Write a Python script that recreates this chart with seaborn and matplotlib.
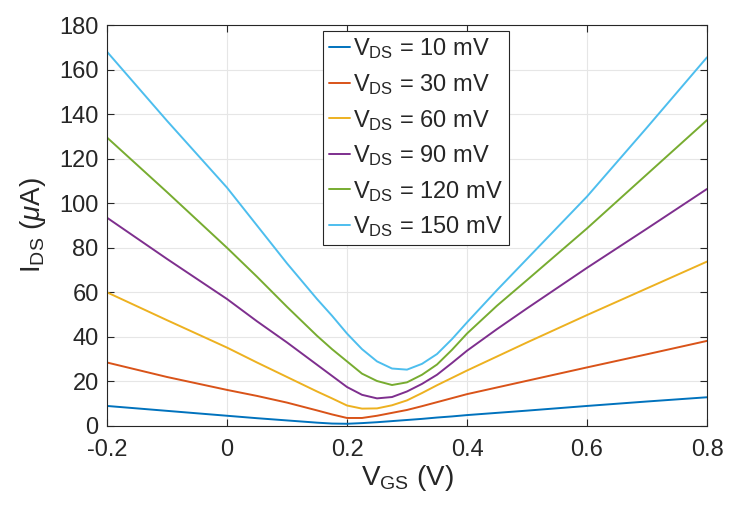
import numpy as np
import pandas as pd
import matplotlib
matplotlib.use("Agg")
import matplotlib.pyplot as plt
from matplotlib.lines import Line2D
import seaborn as sns

# ---- data ----
vgs = [-0.2, -0.1, 0.0, 0.05, 0.1, 0.15, 0.175, 0.2, 0.225, 0.25, 0.275, 0.3, 0.325, 0.35, 0.375, 0.4, 0.45, 0.5, 0.6, 0.7, 0.8]
ids_10 = [9.0, 6.8, 4.6, 3.5, 2.5, 1.5, 1.1, 1.0, 1.3, 1.7, 2.2, 2.7, 3.2, 3.8, 4.3, 4.9, 5.9, 6.9, 9.0, 11.0, 12.9]
ids_30 = [28.5, 22.0, 16.2, 13.5, 10.5, 7.0, 5.2, 3.6, 3.6, 4.6, 5.9, 7.2, 8.9, 10.7, 12.5, 14.3, 17.3, 20.3, 26.3, 32.2, 38.2]
ids_60 = [60.0, 47.5, 35.2, 28.5, 22.0, 15.5, 12.4, 9.2, 7.8, 7.9, 9.3, 11.5, 14.8, 18.3, 21.6, 24.9, 31.2, 37.5, 49.8, 61.8, 73.8]
ids_90 = [93.5, 75.0, 57.0, 47.0, 37.5, 27.5, 22.5, 17.5, 14.0, 12.4, 13.0, 15.5, 18.9, 23.0, 28.3, 33.8, 43.5, 52.8, 71.0, 88.6, 106.4]
ids_120 = [129.5, 105.0, 80.0, 67.0, 53.5, 40.5, 34.5, 29.0, 23.5, 20.2, 18.4, 19.6, 23.0, 27.6, 34.2, 41.5, 54.0, 65.5, 88.7, 113.0, 137.3]
ids_150 = [168.0, 137.0, 107.0, 90.0, 73.0, 57.0, 49.5, 41.5, 34.5, 29.0, 25.8, 25.3, 27.9, 32.3, 39.0, 46.5, 61.0, 75.0, 103.0, 134.0, 165.5]

series_labels = [r"$\mathregular{V_{DS}}$ = 10 mV", r"$\mathregular{V_{DS}}$ = 30 mV",
                 r"$\mathregular{V_{DS}}$ = 60 mV", r"$\mathregular{V_{DS}}$ = 90 mV",
                 r"$\mathregular{V_{DS}}$ = 120 mV", r"$\mathregular{V_{DS}}$ = 150 mV"]
series_values = [ids_10, ids_30, ids_60, ids_90, ids_120, ids_150]
colors = ["#0072BD", "#D95319", "#EDB120", "#7E2F8E", "#77AC30", "#4DBEEE"]

frames = []
for lab, vals in zip(series_labels, series_values):
    frames.append(pd.DataFrame({"VGS": vgs, "IDS": vals, "series": lab}))
df = pd.concat(frames, ignore_index=True)

sns.set_theme(style="whitegrid")
plt.rcParams["font.family"] = ["Liberation Sans", "DejaVu Sans"]
plt.rcParams["mathtext.fontset"] = "custom"
plt.rcParams["mathtext.rm"] = "Liberation Sans"
plt.rcParams["mathtext.it"] = "Liberation Sans:italic"

fig = plt.figure(figsize=(7.34, 5.11), dpi=100)
ax = fig.add_axes([107/734, 1-426/511, 600/734, 401/511])

sns.lineplot(data=df, x="VGS", y="IDS", hue="series", palette=colors,
             hue_order=series_labels, linewidth=1.4, ax=ax, legend=False, sort=True)

ax.set_xlim(-0.2, 0.8)
ax.set_ylim(0, 180)
ax.set_xticks([-0.2, 0, 0.2, 0.4, 0.6, 0.8])
ax.set_xticklabels(["-0.2", "0", "0.2", "0.4", "0.6", "0.8"])
ax.set_yticks(np.arange(0, 181, 20))

ax.grid(True, color="#e6e6e6", linewidth=0.8)
for s in ax.spines.values():
    s.set_visible(True)
    s.set_color("#262626")
    s.set_linewidth(0.8)
ax.set_facecolor("white")
ax.tick_params(direction="in", length=5, width=0.8, color="#262626",
               labelsize=17, labelcolor="#262626", top=True, right=True,
               bottom=True, left=True, pad=6)
ax.tick_params(axis="x", pad=9)

ax.set_xlabel(r"$\mathregular{V_{GS}}$ (V)", fontsize=20, color="#262626", labelpad=2)
ax.set_ylabel(r"$\mathregular{I_{DS}}$ ($\mathit{\mu}$A)", fontsize=20, color="#262626", labelpad=8)

handles = [Line2D([0], [0], color=c, lw=1.4) for c in colors]
leg = ax.legend(handles, series_labels, loc="upper left", bbox_to_anchor=(0.3595, 0.9858),
                borderaxespad=0, fontsize=17, frameon=True, fancybox=False,
                handlelength=0.9, handletextpad=0.15, labelspacing=0.45,
                borderpad=0.25)
leg.get_frame().set_edgecolor("#262626")
leg.get_frame().set_linewidth(0.8)
leg.get_frame().set_alpha(1)

fig.savefig("out.png", dpi=100, facecolor="white")
